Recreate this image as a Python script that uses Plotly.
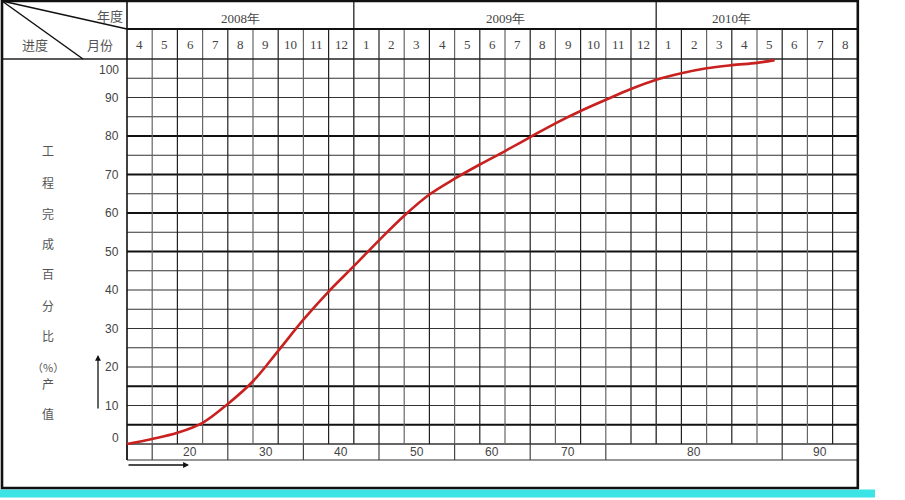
import plotly.graph_objects as go

# ---------------- data ----------------
years = ["2008年", "2009年", "2010年"]
year_months = [[4, 5, 6, 7, 8, 9, 10, 11, 12], list(range(1, 13)), [1, 2, 3, 4, 5, 6, 7, 8]]
year_label_center = [4.5, 15.0, 24.0]          # month-index position of each year caption
progress_ticks = [0, 10, 20, 30, 40, 50, 60, 70, 80, 90, 100]
time_labels = ["20", "30", "40", "50", "60", "70", "80", "90"]
time_cell_bounds = [0, 1, 4, 7, 10, 13, 16, 19, 26, 29]   # label-row cell edges (month index)
side_title = ["工", "程", "完", "成", "百", "分", "比", "（%）", "产", "值"]

elapsed_months = [0, 1, 2, 3, 4, 5, 6, 7, 8, 9, 10, 11, 12, 13, 14, 15, 16, 17,
                  18, 19, 20, 21, 22, 23, 24, 25, 25.7]
completion = [0, 1.3, 2.9, 5.5, 10.4, 16.3, 24.2, 32.3, 39.6, 46.2, 52.9, 59.3,
              64.8, 68.9, 72.6, 76.1, 79.7, 83.3, 86.5, 89.4, 92.2, 94.6, 96.3,
              97.6, 98.4, 99.0, 99.7]

# ---------------- page geometry (pixels -> axis units) ----------------
W, H = 905, 500
PX_MONTH, PX_UNIT = 25.2, 3.85
X0_PX, Y0_PX = 127, 444


def X(p):
    return (p - X0_PX) / PX_MONTH


def Y(p):
    return (Y0_PX - p) / PX_UNIT


n_months = sum(len(m) for m in year_months)
months = [m for ms in year_months for m in ms]
year_edges = [0]
for ms in year_months:
    year_edges.append(year_edges[-1] + len(ms))

TOP, SPLIT, HDR = Y(1), Y(29), 100
LEFT, RIGHT, BOTTOM = X(2), n_months, Y(488)
LROW = Y(460)

shapes = []


def line(x0, y0, x1, y1, w=1.0, c="#222"):
    shapes.append(dict(type="line", xref="x", yref="y", x0=x0, y0=y0, x1=x1, y1=y1,
                       line=dict(color=c, width=w), layer="below"))


# cyan band under the sheet
shapes.append(dict(type="rect", xref="x", yref="y", x0=X(0), x1=X(875), y0=Y(497.5), y1=Y(489.5),
                   fillcolor="#3DE4E6", line=dict(width=0), layer="below"))

# horizontal grid lines every 5 units
thick = {5, 15, 50, 60, 70, 80}
for v in range(5, 100, 5):
    line(0, v, RIGHT, v, 2.0 if v in thick else 1.1, "#111" if v in thick else "#333")
line(0, 0, RIGHT, 0, 1.3, "#333")
line(0, LROW, RIGHT, LROW, 1.2, "#333")

# vertical month lines
for k in range(1, n_months):
    if k in year_edges:
        line(k, 0, k, TOP, 1.4, "#333")
    else:
        c = "#222" if k % 2 == 0 else "#666"
        line(k, 0, k, SPLIT, 1.2, c)

# label-row dividers
for b in time_cell_bounds:
    line(b, LROW, b, 0, 1.2, "#444")

# header lines
line(LEFT, HDR, RIGHT, HDR, 1.5, "#222")
line(0, SPLIT, RIGHT, SPLIT, 2.2, "#111")
line(0, LROW, 0, TOP, 1.6, "#111")
line(LEFT, TOP, 0, SPLIT, 1.5, "#111")
line(LEFT, TOP, X(83), HDR, 1.5, "#111")

# outer frame
shapes.append(dict(type="rect", xref="x", yref="y", x0=LEFT, x1=RIGHT, y0=BOTTOM, y1=TOP,
                   line=dict(color="#111", width=2.6), layer="below"))

fig = go.Figure()
fig.add_trace(go.Scatter(x=elapsed_months, y=completion, mode="lines",
                         line=dict(color="#C8211F", width=2.6, shape="spline", smoothing=1.0),
                         hoverinfo="skip", showlegend=False))

ann = []
serif = dict(family="Liberation Serif", size=13, color="#444")
sans = dict(family="Liberation Sans", size=12, color="#444")
cjk = dict(family="Noto Sans CJK SC", size=12, color="#555")

for i, yname in enumerate(years):
    ann.append(dict(x=year_label_center[i], y=(TOP + SPLIT) / 2, text=yname, showarrow=False,
                    font=serif, yshift=-3))
for i, m in enumerate(months):
    ann.append(dict(x=i + 0.5, y=(SPLIT + HDR) / 2, text=str(m), showarrow=False, font=serif))

for v in progress_ticks:
    shift = -11 if v == 100 else (6 if v == 0 else 0)
    ann.append(dict(x=X(121), y=v, text=str(v), showarrow=False, xanchor="right",
                    font=sans, yshift=shift))

for i, t in enumerate(time_labels):
    ann.append(dict(x=(time_cell_bounds[i + 1] + time_cell_bounds[i + 2]) / 2, y=(0 + LROW) / 2,
                    text=t, showarrow=False, font=sans))

side_y = [150, 182, 213, 243, 273, 305, 335, 367, 383, 413]
for ch, py in zip(side_title, side_y):
    ann.append(dict(x=X(48), y=Y(py), text=ch, showarrow=False,
                    font=dict(family="Noto Sans CJK SC", size=11 if len(ch) > 1 else 12, color="#555")))

ann.append(dict(x=X(110), y=Y(15), text="年度", showarrow=False, font=dict(cjk, size=13)))
ann.append(dict(x=X(100), y=Y(44), text="月份", showarrow=False, font=dict(cjk, size=13)))
ann.append(dict(x=X(35), y=Y(44), text="进度", showarrow=False, font=dict(cjk, size=13)))

# arrows
ann.append(dict(x=X(189), y=Y(465), ax=X(127), ay=Y(465), xref="x", yref="y", axref="x", ayref="y",
                text="", showarrow=True, arrowhead=2, arrowsize=0.9, arrowwidth=1.3, arrowcolor="#111"))
ann.append(dict(x=X(98), y=Y(355), ax=X(98), ay=Y(410), xref="x", yref="y", axref="x", ayref="y",
                text="", showarrow=True, arrowhead=2, arrowsize=0.9, arrowwidth=1.3, arrowcolor="#111"))

fig.update_layout(
    width=W, height=H, margin=dict(l=0, r=0, t=0, b=0),
    paper_bgcolor="white", plot_bgcolor="white",
    xaxis=dict(range=[X(0), X(W)], visible=False, fixedrange=True),
    yaxis=dict(range=[Y(H), Y(0)], visible=False, fixedrange=True),
    shapes=shapes, annotations=ann,
)

fig.write_html("out.html", config={"displayModeBar": False},
               post_script="document.body.style.margin='0';document.body.style.overflow='hidden';")
